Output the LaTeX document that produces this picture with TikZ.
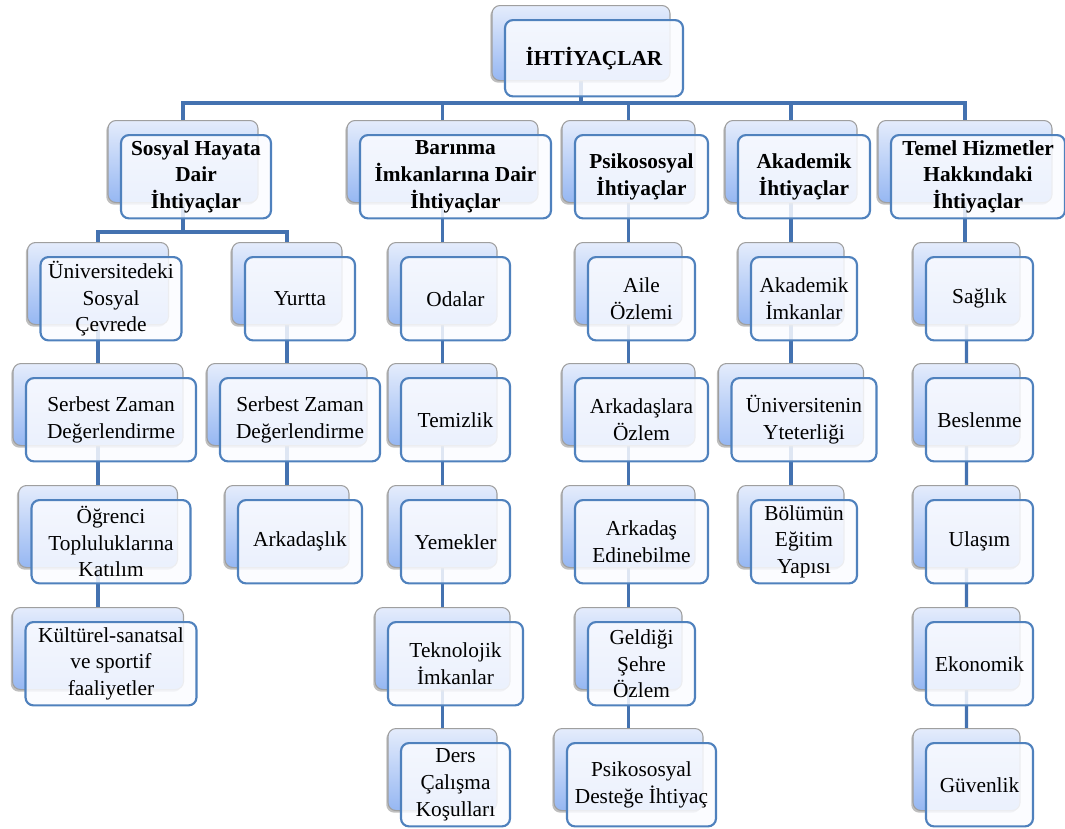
\documentclass[tikz,border=0pt]{standalone}
\usepackage{fontspec}
\setmainfont{Liberation Serif}
\newfontfamily\tmsfont{Liberation Serif}
\usetikzlibrary{shadows,calc}
\pgfdeclarelayer{background}
\pgfsetlayers{background,main}
\definecolor{conn}{RGB}{68,114,176}
\definecolor{fborder}{RGB}{79,129,189}
\definecolor{btop}{RGB}{228,236,252}
\definecolor{bbot}{RGB}{150,183,242}
\definecolor{ffill}{RGB}{250,251,255}
\tikzset{
  backbox/.style={rounded corners=6pt, draw=gray!75, line width=0.8pt,
    top color=btop, bottom color=bbot, inner sep=0pt,
    drop shadow={shadow xshift=-1.3pt, shadow yshift=-1.6pt, opacity=0.5}},
  frontbox/.style={rounded corners=6pt, draw=fborder, line width=1.6pt,
    fill=ffill, fill opacity=0.85, text opacity=1, draw opacity=1, inner sep=1pt,
    align=center, font=\tmsfont\fontsize{16}{20}\selectfont},
  hdr/.style={font=\tmsfont\fontsize{16}{20}\selectfont\bfseries},
  conline/.style={draw=conn, line width=2.6pt},
}
\newcommand\bx[7][]{%
  \node[backbox, minimum width={#5*0.75pt}, minimum height={#6*0.75pt}, anchor=north] (#2-b) at (#3,#4) {};
  \node[frontbox, #1, minimum width={#5*0.75pt}, minimum height={#6*0.75pt+1pt}, anchor=north] (#2) at ($(#2-b.north)+(13,14)$) {#7};
}
\begin{document}
\begin{tikzpicture}[x=0.75pt,y=-0.75pt]
\useasboundingbox (0,0) rectangle (1065,829);
% top
\bx[hdr]{top}{581}{5}{178}{75}{İHTİYAÇLAR}
% level 1
\bx[hdr]{sos}{183}{120}{150}{82}{Sosyal Hayata\\Dair\\İhtiyaçlar}
\bx[hdr]{bar}{442.5}{120}{191}{82}{Barınma\\İmkanlarına Dair\\İhtiyaçlar}
\bx[hdr]{psi}{628.5}{120}{133}{82}{Psikososyal\\İhtiyaçlar}
\bx[hdr]{aka}{791}{120}{132}{82}{Akademik\\İhtiyaçlar}
\bx[hdr]{tem}{965}{120}{174}{82}{Temel Hizmetler\\Hakkındaki\\İhtiyaçlar}
% Sosyal column 1
\bx{uni}{98}{242}{141}{82}{Üniversitedeki\\Sosyal\\Çevrede}
\bx{ser1}{98}{363}{170}{82}{Serbest Zaman\\Değerlendirme}
\bx{ogr}{98}{485}{159}{82}{Öğrenci\\Topluluklarına\\Katılım}
\bx{kul}{98}{607}{171}{82}{Kültürel-sanatsal\\ve sportif\\faaliyetler}
% Sosyal column 2
\bx{yur}{287}{242}{110}{82}{Yurtta}
\bx{ser2}{287}{363}{160}{82}{Serbest Zaman\\Değerlendirme}
\bx{ark}{287}{485}{124}{82}{Arkadaşlık}
% Barinma column
\bx{oda}{442.5}{242}{109}{82}{Odalar}
\bx{tmz}{442.5}{363}{109}{82}{Temizlik}
\bx{yem}{442.5}{485}{109}{82}{Yemekler}
\bx{tek}{442.5}{607}{135}{82}{Teknolojik\\İmkanlar}
\bx{ders}{442.5}{728}{109}{82}{Ders\\Çalışma\\Koşulları}
% Psikososyal column
\bx{aile}{628.5}{242}{107}{82}{Aile\\Özlemi}
\bx{arkoz}{628.5}{363}{133}{82}{Arkadaşlara\\Özlem}
\bx{arked}{628.5}{485}{133}{82}{Arkadaş\\Edinebilme}
\bx{gel}{628.5}{607}{107}{82}{Geldiği\\Şehre\\Özlem}
\bx{psd}{628.5}{728}{149}{82}{Psikososyal\\Desteğe İhtiyaç}
% Akademik column
\bx{akim}{791}{242}{106}{82}{Akademik\\İmkanlar}
\bx{uniy}{791}{363}{145}{82}{Üniversitenin\\Yteterliği}
\bx{bol}{791}{485}{106}{82}{Bölümün\\Eğitim\\Yapısı}
% Temel column
\bx{sag}{966.5}{242}{107}{82}{Sağlık}
\bx{bes}{966.5}{363}{107}{82}{Beslenme}
\bx{ula}{966.5}{485}{107}{82}{Ulaşım}
\bx{eko}{966.5}{607}{107}{82}{Ekonomik}
\bx{guv}{966.5}{728}{107}{82}{Güvenlik}
% connectors
\begin{pgfonlayer}{background}
\coordinate (bus1) at (0,103);
\coordinate (bus2) at (0,232);
\foreach \c in {sos,bar,psi,aka,tem}
  \draw[conline] (top-b.center) |- (\c-b.center |- bus1) -- (\c-b.center);
\foreach \c in {uni,yur}
  \draw[conline] (sos-b.center) |- (\c-b.center |- bus2) -- (\c-b.center);
\draw[conline] (uni-b.center) -- (ser1-b.center) -- (ogr-b.center) -- (kul-b.center);
\draw[conline] (yur-b.center) -- (ser2-b.center) -- (ark-b.center);
\draw[conline] (bar-b.center) -- (oda-b.center) -- (tmz-b.center) -- (yem-b.center) -- (tek-b.center) -- (ders-b.center);
\draw[conline] (psi-b.center) -- (aile-b.center) -- (arkoz-b.center) -- (arked-b.center) -- (gel-b.center) -- (psd-b.center);
\draw[conline] (aka-b.center) -- (aka-b.center |- akim-b.north);
\draw[conline] (aka-b.center |- akim-b.north) -- (akim-b.center) -- (uniy-b.center) -- (bol-b.center);
\draw[conline] (tem-b.center) -- (tem-b.center |- sag-b.north);
\draw[conline] (tem-b.center |- sag-b.north) -- (sag-b.center) -- (bes-b.center) -- (ula-b.center) -- (eko-b.center) -- (guv-b.center);
\end{pgfonlayer}
\end{tikzpicture}
\end{document}
